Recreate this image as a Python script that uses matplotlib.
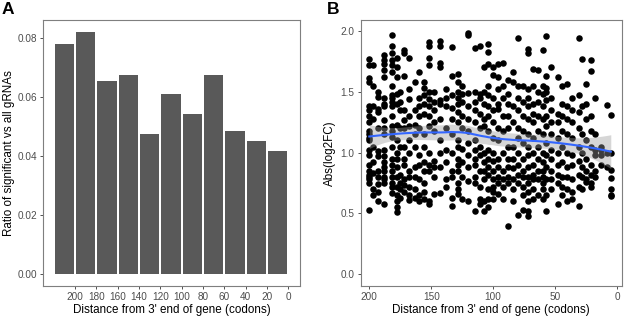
import matplotlib.pyplot as plt
import numpy as np

plt.rcParams['font.family'] = ['Liberation Sans', 'DejaVu Sans']
plt.rcParams['xtick.labelsize'] = 7.2
plt.rcParams['ytick.labelsize'] = 7.2
plt.rcParams['axes.labelsize'] = 8.4

# panel A: ratio of significant gRNAs per 20-codon bin
bin_centers = [210, 190, 170, 150, 130, 110, 90, 70, 50, 30, 10]
bin_ratio = [0.0778, 0.0820, 0.0653, 0.0674, 0.0472, 0.0610,
             0.0543, 0.0674, 0.0485, 0.0451, 0.0417]
a_ticks = [200, 180, 160, 140, 120, 100, 80, 60, 40, 20, 0]

# panel B: abs(log2FC) per gRNA, grouped by approximate distance
col_x = [200, 197, 193, 188, 182, 178, 175, 172, 168, 163, 160, 156, 152,
         148, 143, 138, 133, 128, 125, 120, 115, 111, 107, 104, 100,
         96, 92, 88, 84, 80, 76, 72, 68, 64, 60, 57, 53,
         48, 44, 40, 36, 31, 28, 25, 21, 18, 13, 8, 5]
col_y = [
    [1.77, 1.72, 1.61, 1.58, 1.38, 1.35, 1.30, 1.25, 1.18, 1.15, 1.12, 1.10,
     1.02, 0.98, 0.90, 0.85, 0.82, 0.80, 0.78, 0.75, 0.53],
    [1.72, 1.55, 1.38, 1.28, 1.05, 0.92, 0.83, 0.70, 0.65],
    [1.46, 1.50, 1.36, 1.33, 1.20, 1.01, 0.97, 0.85, 0.80, 0.74, 0.68, 0.60],
    [1.80, 1.76, 1.73, 1.68, 1.62, 1.45, 1.40, 1.38, 1.27, 1.20, 1.15, 1.02,
     0.97, 0.92, 0.88, 0.85, 0.80, 0.78, 0.75, 0.58],
    [1.97, 1.88, 1.82, 1.76, 1.72, 1.66, 1.55, 1.47, 1.45, 1.42, 1.38, 1.30,
     1.22, 1.18, 1.13, 1.05, 0.95, 0.90, 0.85, 0.80, 0.75, 0.72, 0.67],
    [1.78, 1.70, 1.62, 1.48, 1.40, 1.23, 1.10, 1.00, 0.95, 0.88, 0.80, 0.72,
     0.65, 0.60, 0.55, 0.51],
    [1.50, 1.42, 1.35, 1.20, 1.05, 0.82, 0.75, 0.70, 0.63],
    [1.84, 1.82, 1.63, 1.35, 1.27, 1.20, 1.05, 0.95, 0.90, 0.78, 0.73, 0.68],
    [1.78, 1.52, 1.44, 1.30, 1.22, 1.10, 1.00, 0.85, 0.80, 0.72, 0.65, 0.61],
    [1.58, 1.35, 1.23, 1.15, 1.05, 0.88, 0.80, 0.70, 0.63],
    [1.66, 1.45, 1.38, 1.30, 1.20, 0.98, 0.90, 0.78, 0.65, 0.60],
    [1.58, 1.53, 1.47, 1.40, 1.32, 1.15, 1.05, 0.92, 0.85, 0.75, 0.68, 0.62],
    [1.91, 1.88, 1.78, 1.72, 1.50, 1.44, 1.38, 1.30, 1.22, 1.00, 0.90, 0.85,
     0.60, 0.58],
    [1.50, 1.42, 1.35, 1.25, 1.18, 0.93, 0.88, 0.80, 0.66],
    [1.92, 1.88, 1.74, 1.70, 1.43, 1.40, 1.28, 1.10, 1.00, 0.88, 0.67],
    [1.52, 1.45, 1.38, 1.20, 1.02, 0.92, 0.78, 0.72],
    [1.87, 1.63, 1.47, 1.37, 1.28, 1.15, 1.00, 0.85, 0.80, 0.63, 0.56],
    [1.65, 1.58, 1.50, 1.45, 1.40, 1.33, 1.25, 1.10, 1.05, 0.95, 0.90, 0.85,
     0.75, 0.70, 0.66],
    [1.55, 1.48, 1.42, 1.30, 1.20, 1.03, 0.92, 0.80, 0.62],
    [1.98, 1.97, 1.49, 1.38, 1.28, 1.18, 1.08, 0.98, 0.88, 0.77, 0.60],
    [1.86, 1.50, 1.42, 1.35, 1.25, 1.10, 1.02, 0.95, 0.90, 0.80, 0.75, 0.52],
    [1.88, 1.48, 1.45, 1.32, 1.20, 1.05, 0.98, 0.85, 0.72, 0.62, 0.58],
    [1.70, 1.50, 1.40, 1.28, 1.22, 1.00, 0.92, 0.85, 0.78, 0.60, 0.52],
    [1.89, 1.83, 1.73, 1.55, 1.47, 1.38, 1.30, 1.18, 1.02, 0.95, 0.88, 0.82,
     0.70, 0.62, 0.55],
    [1.70, 1.64, 1.45, 1.35, 1.25, 1.12, 1.00, 0.93, 0.85, 0.78, 0.72, 0.68,
     0.62],
    [1.73, 1.62, 1.52, 1.40, 1.36, 1.20, 1.10, 0.95, 0.88, 0.80, 0.75, 0.66],
    [1.74, 1.55, 1.45, 1.30, 1.18, 1.00, 0.85, 0.78, 0.72, 0.62],
    [1.60, 1.48, 1.40, 1.30, 1.20, 1.05, 0.95, 0.88, 0.80, 0.75, 0.40],
    [1.66, 1.58, 1.38, 1.25, 1.05, 0.95, 0.87, 0.78, 0.70, 0.60],
    [1.94, 1.55, 1.45, 1.35, 1.20, 1.12, 1.00, 0.90, 0.82, 0.75, 0.49],
    [1.55, 1.42, 1.30, 1.18, 1.08, 0.95, 0.85, 0.80, 0.72, 0.65, 0.53],
    [1.85, 1.82, 1.52, 1.45, 1.38, 1.28, 1.15, 1.05, 0.98, 0.88, 0.80, 0.75,
     0.68, 0.60, 0.52, 0.48],
    [1.69, 1.55, 1.40, 1.32, 1.25, 1.12, 1.00, 0.90, 0.82, 0.78, 0.70, 0.62],
    [1.68, 1.50, 1.42, 1.30, 1.18, 1.05, 0.95, 0.85, 0.78, 0.65],
    [1.84, 1.55, 1.48, 1.38, 1.28, 1.15, 1.00, 0.92, 0.85, 0.80, 0.75, 0.70,
     0.62],
    [1.96, 1.63, 1.53, 1.50, 1.43, 1.30, 1.22, 1.08, 0.98, 0.88, 0.78, 0.65,
     0.52],
    [1.70, 1.45, 1.35, 1.25, 1.15, 1.02, 0.95, 0.85, 0.78, 0.70],
    [1.62, 1.32, 1.25, 1.12, 1.00, 0.90, 0.82, 0.75, 0.58],
    [1.55, 1.40, 1.30, 1.18, 1.05, 0.92, 0.80, 0.72, 0.65],
    [1.56, 1.38, 1.28, 1.15, 1.00, 0.88, 0.80, 0.70, 0.60],
    [1.45, 1.35, 1.25, 1.12, 0.98, 0.90, 0.78, 0.68, 0.62],
    [1.94, 1.47, 1.33, 1.20, 1.05, 0.93, 0.82, 0.72, 0.56],
    [1.77, 1.38, 1.15, 1.00, 0.88, 0.80, 0.70],
    [1.56, 1.40, 1.28, 1.10, 0.95, 0.85, 0.78, 0.76],
    [1.76, 1.67, 1.30, 1.18, 1.05, 0.90, 0.82, 0.75, 0.72],
    [1.45, 1.15, 1.02, 0.98, 0.85, 0.80],
    [1.05, 1.02, 0.98, 0.90],
    [1.39, 1.00, 0.88],
    [1.31, 1.00, 0.86, 0.79, 0.70, 0.65, 0.64],
]


def loess(x, y, xs, span=0.75):
    # local quadratic fit with tricube weights (like R's loess default)
    n = len(x)
    q = int(np.floor(n * span))

    def weights_row(x0):
        d = np.abs(x - x0)
        h = np.sort(d)[q - 1]
        w = np.clip(1 - (d / h) ** 3, 0, None) ** 3
        dx = (x - x0) / 100.0
        X = np.column_stack([np.ones(n), dx, dx ** 2])
        XtW = X.T * w
        return np.linalg.solve(XtW @ X, XtW)[0]

    L = np.array([weights_row(v) for v in x])
    resid = y - L @ y
    df = n - 2 * np.trace(L) + np.trace(L.T @ L)
    sigma = np.sqrt(np.sum(resid ** 2) / df)
    fit, se = [], []
    for v in xs:
        l = weights_row(v)
        fit.append(l @ y)
        se.append(sigma * np.sqrt(np.sum(l ** 2)))
    return np.array(fit), np.array(se)


pt_x = np.concatenate([[cx] * len(cy) for cx, cy in zip(col_x, col_y)]).astype(float)
pt_y = np.concatenate(col_y)

fig = plt.figure(figsize=(6.25, 3.17), dpi=100)
ax1 = fig.add_axes([0.0688, 0.098, 0.4112, 0.84])
ax2 = fig.add_axes([0.577, 0.098, 0.4177, 0.84])

# ---- panel A
ax1.bar(bin_centers, bin_ratio, width=18, color='#595959', zorder=2)
ax1.set_xlim(230, -11)
ax1.set_ylim(-0.0041, 0.0861)
ax1.set_xticks(a_ticks)
ax1.set_yticks([0.0, 0.02, 0.04, 0.06, 0.08])
ax1.set_yticklabels(['0.00', '0.02', '0.04', '0.06', '0.08'])
ax1.set_xlabel("Distance from 3' end of gene (codons)", labelpad=1.5)
ax1.set_ylabel('Ratio of significant vs all gRNAs', labelpad=1.5)

# ---- panel B
ax2.scatter(pt_x, pt_y, s=22, color='black', linewidths=0, zorder=2)
xs = np.linspace(pt_x.min(), pt_x.max(), 80)
fit, se = loess(pt_x, pt_y, xs)
t = 1.964
ax2.fill_between(xs, fit - t * se, fit + t * se, color='#999999',
                 alpha=0.4, linewidth=0, zorder=3)
ax2.plot(xs, fit, color='#3366FF', lw=1.5, zorder=4)
ax2.set_xlim(207, -3.8)
ax2.set_ylim(-0.096, 2.093)
ax2.set_xticks([200, 150, 100, 50, 0])
ax2.set_yticks([0.0, 0.5, 1.0, 1.5, 2.0])
ax2.set_yticklabels(['0.0', '0.5', '1.0', '1.5', '2.0'])
ax2.set_xlabel("Distance from 3' end of gene (codons)", labelpad=1.5)
ax2.set_ylabel('Abs(log2FC)', labelpad=3)

for ax in (ax1, ax2):
    for sp in ax.spines.values():
        sp.set_color('#7f7f7f')
        sp.set_linewidth(0.8)
    ax.tick_params(length=2.5, width=0.6, color='#333333',
                   labelcolor='#4D4D4D', pad=2)

fig.text(0.003, 0.995, 'A', fontsize=12.5, fontweight='bold', va='top')
fig.text(0.523, 0.995, 'B', fontsize=12.5, fontweight='bold', va='top')

plt.savefig('out.png', dpi=100)
